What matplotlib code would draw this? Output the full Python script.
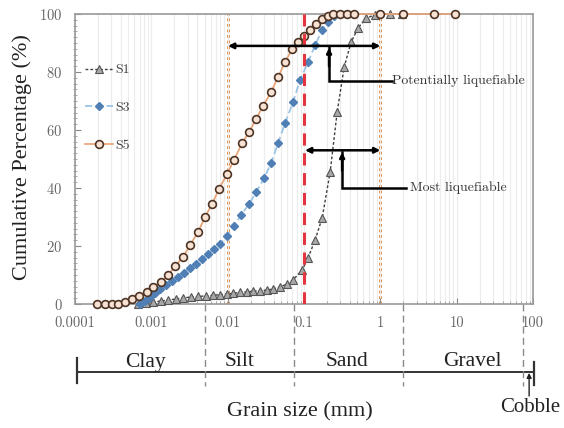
import numpy as np
import matplotlib
matplotlib.use("Agg")
import matplotlib.pyplot as plt
import matplotlib.transforms as mtransforms
from matplotlib.ticker import FixedLocator, LogLocator, NullFormatter, MultipleLocator

# ---------------------------------------------------------------------------
# data (grain size in mm, % passing)
# ---------------------------------------------------------------------------
s1_d = [6.70e-4, 8.53e-4, 1.05e-3, 1.34e-3, 1.66e-3, 2.11e-3, 2.60e-3, 3.31e-3,
        4.09e-3, 5.21e-3, 6.44e-3, 7.94e-3, 9.82e-3, 0.0118, 0.0146, 0.0180,
        0.0215, 0.0266, 0.0328, 0.0394, 0.0486, 0.0600, 0.0719, 0.0944, 0.113,
        0.140, 0.173, 0.220, 0.272, 0.336, 0.414, 0.512, 0.652, 0.855, 1.34, 1.93]
s1_p = [0, 0.3, 0.7, 1.0, 1.4, 1.7, 2.1, 2.4, 2.6, 2.8, 3.0, 3.2, 3.4, 3.7, 4.0,
        4.2, 4.4, 4.6, 4.8, 5.2, 5.9, 6.9, 8.3, 11.7, 15.9, 22.1, 29.7, 45.5,
        66.2, 81.7, 90.3, 95.2, 98.6, 99.7, 100, 100]

s3_d = [7.11e-4, 8.27e-4, 9.62e-4, 1.12e-3, 1.30e-3, 1.56e-3, 1.87e-3, 2.24e-3,
        2.68e-3, 3.21e-3, 3.85e-3, 4.62e-3, 5.53e-3, 6.63e-3, 7.94e-3, 9.82e-3,
        0.0121, 0.0150, 0.0191, 0.0236, 0.0300, 0.0371, 0.0458, 0.0565, 0.0719,
        0.0889, 0.113, 0.140, 0.173, 0.207, 0.248, 0.297, 0.367, 0.454, 1.0,
        2.0, 5.0, 9.5]
s3_p = [0, 1.0, 2.4, 3.8, 5.2, 6.6, 7.9, 9.3, 10.7, 12.4, 13.8, 15.5, 17.2, 19.0,
        20.7, 23.4, 26.9, 30.7, 34.5, 38.6, 43.4, 48.6, 55.5, 62.4, 69.7, 77.2,
        83.4, 89.3, 94.5, 97.2, 99.3, 100, 100, 100, 100, 100, 100, 100]

s5_d = [1.94e-4, 2.47e-4, 3.05e-4, 3.66e-4, 4.52e-4, 5.58e-4, 6.90e-4, 8.79e-4,
        1.05e-3, 1.34e-3, 1.66e-3, 2.05e-3, 2.60e-3, 3.21e-3, 4.09e-3, 5.06e-3,
        6.25e-3, 7.71e-3, 9.82e-3, 0.0121, 0.0155, 0.0191, 0.0236, 0.0291,
        0.0371, 0.0458, 0.0565, 0.0698, 0.0838, 0.100, 0.120, 0.144, 0.173,
        0.207, 0.241, 0.297, 0.367, 0.454, 1.0, 2.0, 5.0, 9.5]
s5_p = [0, 0, 0, 0, 0.7, 1.7, 2.8, 4.1, 5.9, 7.6, 10.0, 13.1, 16.2, 20.3, 24.8,
        30.0, 34.5, 39.7, 44.8, 49.7, 55.5, 59.3, 63.8, 68.3, 73.1, 78.3, 83.4,
        87.9, 90.3, 92.4, 94.5, 96.6, 98.3, 99.3, 100, 100, 100, 100, 100, 100,
        100, 100]

x_ticks = [0.0001, 0.001, 0.01, 0.1, 1, 10, 100]
x_tick_labels = ["0.0001", "0.001", "0.01", "0.1", "1", "10", "100"]

# soil classes (boundaries in mm)
class_edges = [0.000107, 0.005, 0.075, 2.0, 75.0, 104.0]
class_names = ["Clay", "Silt", "Sand", "Gravel"]
class_label_x = [0.00083, 0.0145, 0.37, 16.0]

SERIF = ["Liberation Serif", "DejaVu Serif"]
CM = ["cmr10", "DejaVu Serif"]
plt.rcParams["axes.formatter.use_mathtext"] = True

fig = plt.figure(figsize=(5.64, 4.28), dpi=100)
ax = fig.add_axes([75 / 564, 1 - 304 / 428, 458 / 564, 290 / 428])

ax.set_xscale("log")
ax.set_xlim(0.0001, 100)
ax.set_ylim(0, 100)

# faint vertical grid (major + minor)
ax.xaxis.set_minor_locator(LogLocator(base=10, subs=np.arange(2, 10)))
ax.grid(True, which="both", axis="x", color="#ececec", lw=0.8, zorder=0)

# liquefaction limits
ax.axvline(0.01, color="#e08436", lw=2.0, ls=(0, (1, 1)), zorder=1.5)
ax.axvline(1.0, color="#e08436", lw=2.0, ls=(0, (1, 1)), zorder=1.5)
ax.axvline(0.1, color="#e3343f", lw=2.2, ls=(0, (4, 2.5)), zorder=5)

l1, = ax.plot(s1_d, s1_p, ls=(0, (2, 1.5)), color="#404040", lw=1.0,
              marker="^", ms=5.2, mfc="#a8a8a8", mec="#555555", mew=0.8,
              label="S1", clip_on=False, zorder=3)
l3, = ax.plot(s3_d, s3_p, ls=(0, (4, 2)), color="#9dc3e6", lw=1.3,
              marker="D", ms=4.0, mfc="#4f7fb5", mec="#4f7fb5",
              label="S3", clip_on=False, zorder=3.2)
l5, = ax.plot(s5_d, s5_p, ls="-", color="#e9a070", lw=1.2,
              marker="o", ms=5.6, mfc="#f7e2d4", mec="#4e3424", mew=1.2,
              label="S5", clip_on=False, zorder=3.4)

leg = ax.legend(handles=[l1, l3, l5], loc="upper left",
                bbox_to_anchor=(0.0, 0.862), frameon=False,
                prop={"family": CM, "size": 10}, labelspacing=1.8,
                handlelength=2.0, handletextpad=0.2, borderaxespad=0.3)
for t in leg.get_texts():
    t.set_color("#444444")

# annotations
arrow_kw = dict(arrowstyle="<|-|>", color="black", lw=1.8,
                mutation_scale=8, shrinkA=0, shrinkB=0)
ax.annotate("", xy=(0.0101, 89), xytext=(1.0, 89), arrowprops=arrow_kw, zorder=6)
ax.annotate("", xy=(0.103, 53), xytext=(1.0, 53), arrowprops=arrow_kw, zorder=6)

up_kw = dict(arrowstyle="-|>", color="black", lw=1.8, mutation_scale=7,
             shrinkA=0, shrinkB=0)
ax.plot([0.213, 0.213, 1.43], [88.5, 76.9, 76.9], color="black", lw=1.8,
        solid_joinstyle="miter", zorder=6)
ax.annotate("", xy=(0.213, 88.3), xytext=(0.213, 82), arrowprops=up_kw, zorder=6)
ax.text(1.43, 76.9, "Potentially liquefiable", family=CM, size=10,
        color="#333333", va="center", ha="left")

ax.plot([0.316, 0.316, 2.2], [52.5, 40, 40], color="black", lw=1.8,
        solid_joinstyle="miter", zorder=6)
ax.annotate("", xy=(0.316, 52.3), xytext=(0.316, 46), arrowprops=up_kw, zorder=6)
ax.text(2.45, 40, "Most liquefiable", family=CM, size=10,
        color="#333333", va="center", ha="left")

# axes styling
ax.xaxis.set_major_locator(FixedLocator(x_ticks))
ax.set_xticklabels(x_tick_labels)
ax.xaxis.set_minor_formatter(NullFormatter())
ax.yaxis.set_major_locator(MultipleLocator(20))
ax.yaxis.set_minor_locator(MultipleLocator(2))
ax.tick_params(axis="both", which="major", labelsize=10.5, labelcolor="#666666",
               color="#888888", direction="in", length=4, pad=9)
ax.tick_params(axis="both", which="minor", color="#999999", direction="inout",
               length=3)
ax.tick_params(axis="x", which="minor", direction="in", length=2.5)
for lbl in ax.get_xticklabels() + ax.get_yticklabels():
    lbl.set_family(CM)
for sp in ax.spines.values():
    sp.set_color("#9a9a9a")
    sp.set_linewidth(1.2)

fig.text(22 / 564, 1 - 157 / 428, "Cumulative Percentage (%)", family=SERIF,
         size=16, rotation=90, ha="center", va="center", color="#222222")

# soil classification bar below the axis
trans = mtransforms.blended_transform_factory(ax.transData, ax.transAxes)
bar_y = -(372 - 304) / 290
ax.plot([class_edges[0], class_edges[-1]], [bar_y, bar_y], color="#333333",
        lw=1.4, transform=trans, clip_on=False)
for xe, (y0, y1) in zip([class_edges[0], class_edges[-1]],
                        [(-(358 - 304) / 290, -(383 - 304) / 290),
                         (-(362 - 304) / 290, -(385 - 304) / 290)]):
    ax.plot([xe, xe], [y0, y1], color="#333333", lw=1.6, transform=trans,
            clip_on=False)
for xe in class_edges[1:-1]:
    ax.plot([xe, xe], [0, -(386 - 304) / 290], color="#8a8a8a", lw=1.0,
            ls=(0, (5, 3)), transform=trans, clip_on=False)
for name, xl in zip(class_names, class_label_x):
    ax.text(xl, -(362 - 304) / 290, name, family=SERIF, size=15.5,
            color="#222222", ha="center", va="center", transform=trans)

# cobble pointer
ax.annotate("", xy=(89, bar_y - 0.003), xytext=(89, -(396 - 304) / 290),
            xycoords=trans, textcoords=trans,
            arrowprops=dict(arrowstyle="-|>", color="#222222", lw=1.0,
                            mutation_scale=7, shrinkA=0, shrinkB=0))
fig.text(530 / 564, 1 - 408 / 428, "Cobble", family=SERIF, size=15,
         ha="center", va="center", color="#222222")

fig.text(300 / 564, 1 - 412 / 428, "Grain size (mm)", family=SERIF, size=16,
         ha="center", va="center", color="#222222")

fig.savefig("out.png", dpi=100)
